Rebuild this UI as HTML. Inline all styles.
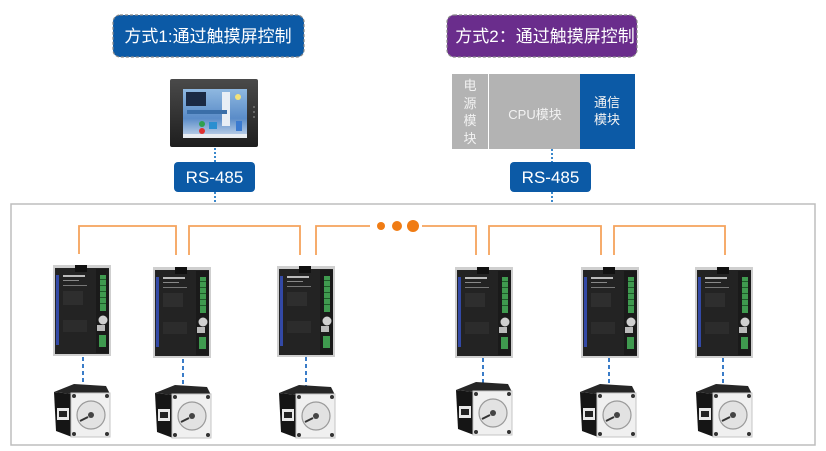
<!DOCTYPE html>
<html><head><meta charset="utf-8"><style>
html,body{margin:0;padding:0;background:#fff;}
body{width:826px;height:451px;overflow:hidden;}
svg{display:block;}
text{font-family:"Liberation Sans","Noto Sans CJK SC",sans-serif;}
</style></head><body>
<svg width="826" height="451" viewBox="0 0 826 451" xmlns="http://www.w3.org/2000/svg">
<defs>
  <linearGradient id="scr" x1="0" y1="0" x2="0" y2="1">
    <stop offset="0" stop-color="#8fb8e0"/><stop offset="0.6" stop-color="#5a8cc8"/><stop offset="1" stop-color="#c8d8ec"/>
  </linearGradient>
  <linearGradient id="frm" x1="0" y1="0" x2="0" y2="1">
    <stop offset="0" stop-color="#4a4a4a"/><stop offset="1" stop-color="#1e1e1e"/>
  </linearGradient>
  <g id="drv">
    <rect x="0" y="0" width="58" height="91" fill="#cfcfcf"/>
    <rect x="2" y="3" width="54" height="86" fill="#232323"/>
    <rect x="22" y="0" width="12" height="7" fill="#111"/>
    <rect x="3" y="10" width="3" height="70" fill="#3349a6"/>
    <rect x="10" y="10" width="22" height="2" fill="#bbb"/>
    <rect x="10" y="15" width="16" height="1" fill="#888"/>
    <rect x="10" y="20" width="24" height="1" fill="#777"/>
    <rect x="10" y="26" width="20" height="14" fill="#2e2e2e"/>
    <rect x="10" y="55" width="24" height="12" fill="#2c2c2c"/>
    <rect x="43" y="4" width="13" height="84" fill="#1a1a1a"/>
    <rect x="47" y="10" width="6" height="36" fill="#3f9a4f"/>
    <rect x="47" y="14" width="6" height="1" fill="#1d5a28"/>
    <rect x="47" y="20" width="6" height="1" fill="#1d5a28"/>
    <rect x="47" y="26" width="6" height="1" fill="#1d5a28"/>
    <rect x="47" y="32" width="6" height="1" fill="#1d5a28"/>
    <rect x="47" y="38" width="6" height="1" fill="#1d5a28"/>
    <circle cx="50" cy="55" r="4.5" fill="#d0d0d0"/>
    <rect x="44" y="60" width="8" height="6" fill="#bbb"/>
    <rect x="46" y="70" width="7" height="12" fill="#3f9a4f"/>
  </g>
  <g id="mot">
    <polygon points="0,8 18,10 18,53 2,47" fill="#151515"/>
    <polygon points="0,8 20,0 52,2 56,10 18,10" fill="#262626"/>
    <rect x="3" y="24" width="12" height="12" fill="#e8e8e8"/>
    <rect x="5" y="27" width="8" height="6" fill="#222"/>
    <rect x="17" y="9" width="39" height="44" fill="#f0f0f0" stroke="#c4c4c4" stroke-width="1"/>
    <circle cx="37" cy="31" r="14" fill="#e2e2e2" stroke="#9a9a9a" stroke-width="1.2"/>
    <circle cx="37" cy="31" r="3" fill="#444"/>
    <line x1="34" y1="33" x2="26" y2="37" stroke="#333" stroke-width="2"/>
    <circle cx="20" cy="12" r="2" fill="#333"/>
    <circle cx="53" cy="12" r="2" fill="#333"/>
    <circle cx="20" cy="50" r="2" fill="#333"/>
    <circle cx="53" cy="50" r="2" fill="#333"/>
  </g>
</defs>

<!-- Title 1 -->
<rect x="113" y="15" width="191" height="42" rx="7" fill="#0c5aa6" stroke="#888" stroke-width="1.2" stroke-dasharray="3,2"/>
<text x="208" y="42" font-size="17" fill="#fff" text-anchor="middle">方式1:通过触摸屏控制</text>

<!-- Title 2 -->
<rect x="447" y="15" width="190" height="42" rx="7" fill="#6a2d8c" stroke="#888" stroke-width="1.2" stroke-dasharray="3,2"/>
<text x="545" y="42" font-size="17" fill="#fff" text-anchor="middle">方式2：通过触摸屏控制</text>

<!-- HMI -->
<rect x="170" y="79" width="88" height="68" rx="2" fill="url(#frm)"/>
<rect x="183" y="89" width="64" height="49" fill="url(#scr)"/>
<rect x="186" y="92" width="20" height="14" fill="#1b2a44"/>
<rect x="222" y="92" width="8" height="34" fill="#e8eef5"/>
<circle cx="238" cy="97" r="3" fill="#f3e27a"/>
<rect x="187" y="110" width="40" height="4" fill="#3a6ea8"/>
<circle cx="202" cy="124" r="3" fill="#2fa050"/>
<circle cx="202" cy="131" r="3" fill="#e03030"/>
<rect x="209" y="122" width="8" height="7" fill="#2a8fd0"/>
<rect x="236" y="121" width="6" height="10" fill="#3a7ad0"/>
<rect x="183" y="134" width="64" height="4" fill="#e9edf2"/>
<circle cx="254" cy="107" r="1" fill="#777"/>
<circle cx="254" cy="112" r="1" fill="#777"/>
<circle cx="254" cy="117" r="1" fill="#777"/>

<!-- PLC -->
<rect x="452" y="74" width="36" height="75" fill="#b3b3b3"/>
<rect x="489" y="74" width="91" height="75" fill="#b3b3b3"/>
<rect x="580" y="74" width="55" height="75" fill="#0c5aa6"/>
<g font-size="13" fill="#f2f2f2" text-anchor="middle">
<text x="470" y="90">电</text>
<text x="470" y="108">源</text>
<text x="470" y="125">模</text>
<text x="470" y="143">块</text>
<text x="535" y="119">CPU模块</text>
<text x="607" y="107">通信</text>
<text x="607" y="124">模块</text>
</g>

<!-- dotted connectors top -->
<g stroke="#3a88cc" stroke-width="2" stroke-dasharray="2,2">
<line x1="215" y1="148" x2="215" y2="162"/>
<line x1="215" y1="192" x2="215" y2="204"/>
<line x1="552" y1="149" x2="552" y2="162"/>
<line x1="552" y1="192" x2="552" y2="204"/>
</g>

<!-- RS-485 boxes -->
<rect x="174" y="162" width="81" height="30" rx="4" fill="#0c5aa6"/>
<text x="214.5" y="183" font-size="17" fill="#fff" text-anchor="middle">RS-485</text>
<rect x="510" y="162" width="81" height="30" rx="4" fill="#0c5aa6"/>
<text x="550.5" y="183" font-size="17" fill="#fff" text-anchor="middle">RS-485</text>

<!-- container -->
<rect x="11" y="204" width="804" height="241" fill="none" stroke="#bdbdbd" stroke-width="1.5"/>

<!-- orange bus -->
<g fill="none" stroke="#f5a35c" stroke-width="1.8">
<path d="M79 254 V226 H176 V255"/>
<path d="M189 255 V226 H300 V255"/>
<path d="M316 255 V226 H370"/>
<path d="M422 226 H476 V255"/>
<path d="M489 255 V226 H601 V255"/>
<path d="M614 255 V226 H725 V255"/>
</g>
<circle cx="381" cy="226" r="4" fill="#f07c14"/>
<circle cx="397" cy="226" r="5" fill="#f07c14"/>
<circle cx="413" cy="226" r="6" fill="#f07c14"/>

<!-- drivers -->
<use href="#drv" x="53" y="265"/>
<use href="#drv" x="153" y="267"/>
<use href="#drv" x="277" y="266"/>
<use href="#drv" x="455" y="267"/>
<use href="#drv" x="581" y="267"/>
<use href="#drv" x="695" y="267"/>

<!-- driver-motor dashed -->
<g stroke="#3a7cc8" stroke-width="2" stroke-dasharray="4,3">
<line x1="83" y1="357" x2="83" y2="385"/>
<line x1="183" y1="359" x2="183" y2="386"/>
<line x1="306" y1="357" x2="306" y2="386"/>
<line x1="483" y1="358" x2="483" y2="383"/>
<line x1="609" y1="358" x2="609" y2="385"/>
<line x1="723" y1="358" x2="723" y2="385"/>
</g>

<!-- motors -->
<use href="#mot" x="54" y="384"/>
<use href="#mot" x="155" y="385"/>
<use href="#mot" x="279" y="385"/>
<use href="#mot" x="456" y="382"/>
<use href="#mot" x="580" y="384"/>
<use href="#mot" x="696" y="384"/>
</svg>
</body></html>
